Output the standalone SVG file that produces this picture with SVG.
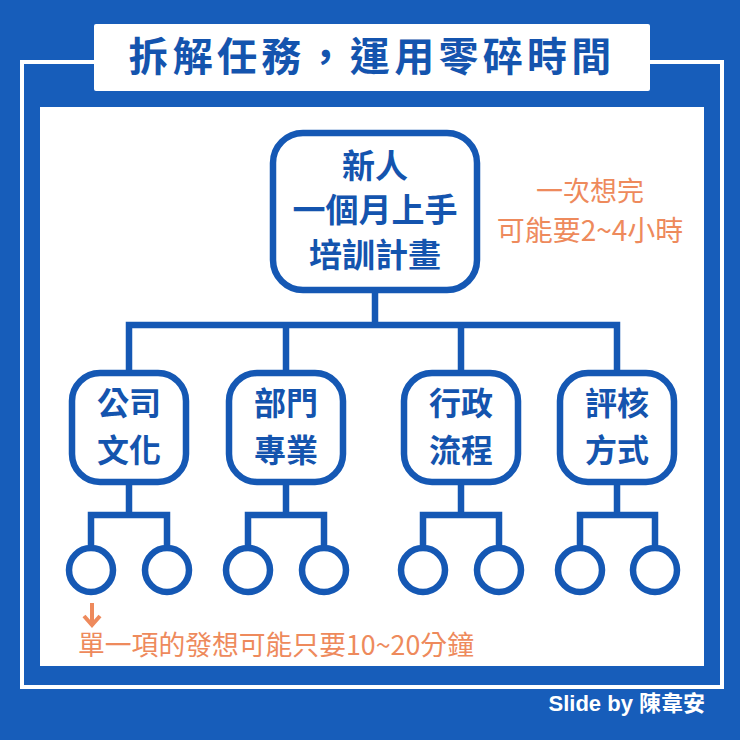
<svg xmlns="http://www.w3.org/2000/svg" width="740" height="740" viewBox="0 0 740 740">
<style>
.node{fill:#ffffff;stroke:#1558B4;stroke-width:6.5}
.leaf{fill:#ffffff;stroke:#1558B4;stroke-width:6.5}
.conn{fill:none;stroke:#1558B4;stroke-width:6.5}
.nt{font-family:"Noto Sans CJK TC","Noto Sans CJK SC",sans-serif;font-weight:700;fill:#1454AE;text-anchor:middle}
.big{font-size:33px}
.mid{font-size:32px}
.note{font-family:"Noto Sans CJK TC","Noto Sans CJK SC",sans-serif;font-weight:400;fill:#EE8A5C}
</style>
<rect x="0" y="0" width="740" height="740" fill="#175DBA"/>
<rect x="22" y="62" width="700" height="625" fill="none" stroke="#ffffff" stroke-width="4"/>
<rect x="40" y="107" width="664" height="559" fill="#ffffff"/>
<rect x="94" y="24" width="556" height="67" fill="#ffffff" rx="2"/>
<text x="372" y="71" class="nt" style="font-size:40px;letter-spacing:4.3px">拆解任務，運用零碎時間</text>

<g id="connectors">
<path class="conn" d="M375 293 V325 M129 373 V325 H617 V373 M286 325 V373 M461 325 V373"/>
<path class="conn" d="M129 485 V515 M91 545 V515 H167 V545"/>
<path class="conn" d="M286 485 V515 M248 545 V515 H324 V545"/>
<path class="conn" d="M461 485 V515 M423 545 V515 H499 V545"/>
<path class="conn" d="M617 485 V515 M580 545 V515 H655 V545"/>
</g>

<g id="root">
<rect class="node" x="273" y="133" width="204" height="157" rx="30"/>
<text class="nt big" x="375" y="178">新人</text>
<text class="nt big" x="375" y="222">一個月上手</text>
<text class="nt big" x="375" y="267">培訓計畫</text>
</g>

<g id="n1">
<rect class="node" x="72" y="373" width="114" height="109" rx="28"/>
<text class="nt mid" x="129" y="415">公司</text>
<text class="nt mid" x="129" y="462">文化</text>
</g>
<g id="n2">
<rect class="node" x="229" y="373" width="114" height="109" rx="28"/>
<text class="nt mid" x="286" y="415">部門</text>
<text class="nt mid" x="286" y="462">專業</text>
</g>
<g id="n3">
<rect class="node" x="404" y="373" width="114" height="109" rx="28"/>
<text class="nt mid" x="461" y="415">行政</text>
<text class="nt mid" x="461" y="462">流程</text>
</g>
<g id="n4">
<rect class="node" x="560" y="373" width="114" height="109" rx="28"/>
<text class="nt mid" x="617" y="415">評核</text>
<text class="nt mid" x="617" y="462">方式</text>
</g>

<g id="leaves">
<circle class="leaf" cx="91" cy="570" r="22"/>
<circle class="leaf" cx="167" cy="570" r="22"/>
<circle class="leaf" cx="248" cy="570" r="22"/>
<circle class="leaf" cx="324" cy="570" r="22"/>
<circle class="leaf" cx="423" cy="570" r="22"/>
<circle class="leaf" cx="499" cy="570" r="22"/>
<circle class="leaf" cx="580" cy="570" r="22"/>
<circle class="leaf" cx="655" cy="570" r="22"/>
</g>

<g id="notes">
<text class="note" x="590" y="201" text-anchor="middle" font-size="27">一次想完</text>
<text class="note" x="590" y="241" text-anchor="middle" font-size="28">可能要2~4小時</text>
<path d="M92 603 V625 M84 616 L92 625 L100 616" fill="none" stroke="#EE8A5C" stroke-width="4" stroke-linejoin="miter"/>
<text class="note" x="78" y="655" font-size="26.8">單一項的發想可能只要10~20分鐘</text>
</g>

<text x="705" y="711" text-anchor="end" font-family="'Liberation Sans','Noto Sans CJK TC',sans-serif" font-weight="700" font-size="22" fill="#ffffff">Slide by 陳韋安</text>
</svg>
